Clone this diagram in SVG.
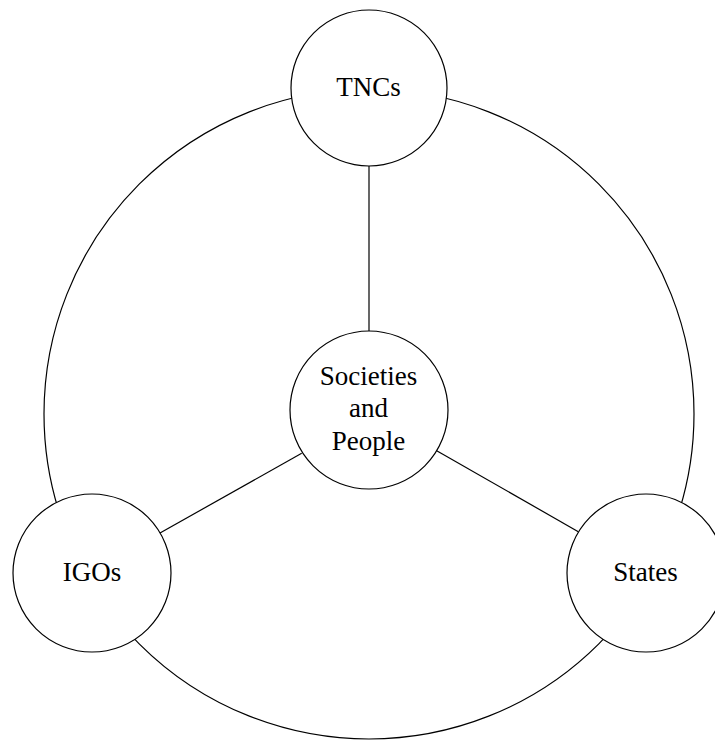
<svg xmlns="http://www.w3.org/2000/svg" width="715" height="740" viewBox="0 0 715 740">
<style>
.ring{fill:none;stroke:#000;stroke-width:1.2}
.node{fill:#fff;stroke:#000;stroke-width:1.2}
.edge{stroke:#000;stroke-width:1.2;fill:none}
.lbl{font-family:"Liberation Serif","Times New Roman",serif;font-size:27px;fill:#000;text-anchor:middle}
</style>
<rect width="715" height="740" fill="#fff"/>
<circle class="ring" cx="369" cy="414" r="325"/>
<g id="connectors">
<line class="edge" x1="369" y1="166" x2="369" y2="331"/>
<line class="edge" x1="301.7" y1="453.3" x2="160" y2="533"/>
<line class="edge" x1="436.7" y1="450.7" x2="578.3" y2="531.7"/>
</g>
<g id="tncs">
<circle class="node" cx="369" cy="88" r="78"/>
<text class="lbl" x="368.5" y="96">TNCs</text>
</g>
<g id="societies">
<circle class="node" cx="369" cy="410" r="79"/>
<text class="lbl" x="368.5" y="385">Societies</text>
<text class="lbl" x="368.5" y="417">and</text>
<text class="lbl" x="368.5" y="450">People</text>
</g>
<g id="igos">
<circle class="node" cx="92" cy="573" r="79"/>
<text class="lbl" x="92" y="581">IGOs</text>
</g>
<g id="states">
<circle class="node" cx="646" cy="573" r="79"/>
<text class="lbl" x="645.5" y="581">States</text>
</g>
</svg>
